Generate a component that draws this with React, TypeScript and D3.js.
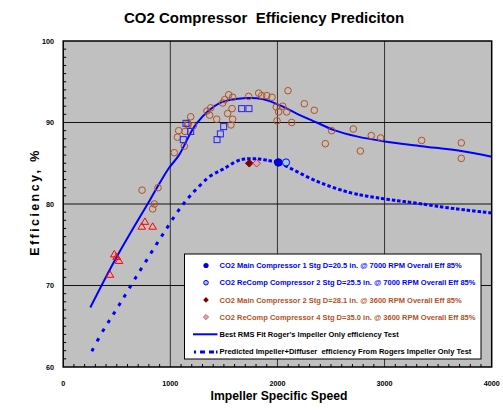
import React from "react";
import * as d3 from "d3";

const W = 503;
const H = 412;
const M = { left: 63.2, right: 491.7, top: 41, bottom: 367 };

const xTicks = [0, 1000, 2000, 3000, 4000];
const yTicks = [60, 70, 80, 90, 100];

// Rogers impeller test data (open brown circles)
const rogersCircles: [number, number][] = [
  [736, 81.7], [885, 82.0], [851, 80.0], [835, 79.4], [1037, 86.3], [1066, 88.2],
  [1078, 89.0], [1131, 87.1], [1137, 88.9], [1162, 89.9], [1190, 90.7], [1215, 89.6],
  [1165, 89.7], [1342, 91.4], [1377, 91.8], [1367, 90.9], [1433, 90.4], [1489, 92.4],
  [1507, 92.8], [1545, 93.4], [1582, 93.1], [1576, 91.7], [1535, 91.1], [1582, 90.4],
  [1566, 89.7], [1731, 93.2], [1825, 93.6], [1853, 93.3], [1900, 93.3], [1949, 93.1],
  [1989, 91.9], [2011, 91.3], [1996, 90.2], [2049, 92.0], [2086, 91.3], [2098, 93.9],
  [2133, 90.0], [2251, 92.3], [2344, 91.5], [2506, 89.0], [2447, 87.4], [2708, 89.2],
  [2774, 86.5], [2876, 88.4], [2963, 88.1], [3346, 87.8], [3716, 87.5], [3716, 85.6],
];
// open blue squares
const squares: [number, number][] = [
  [1146, 89.9], [1190, 88.9], [1121, 87.9], [1498, 89.5], [1467, 88.6], [1436, 87.9],
  [1666, 91.7], [1734, 91.7],
];
// open red triangles
const triangles: [number, number][] = [
  [437, 71.3], [477, 73.8], [499, 73.5], [521, 73.0], [733, 77.2], [763, 77.8], [835, 77.2],
];

const mainComp1: [number, number] = [2008, 85.1];
const reComp2: [number, number] = [2080, 85.1];
const mainComp2: [number, number] = [1737, 85.0];
const reComp4: [number, number] = [1806, 85.0];

const bestFit: [number, number][] = [
  [253, 67.3], [499, 73.5], [810, 80.5], [981, 84.3], [1081, 86.0], [1246, 89.9],
  [1464, 92.4], [1713, 93.0], [1868, 92.85], [2024, 92.1], [2179, 91.1], [2366, 90.0],
  [2521, 89.1], [2739, 88.3], [2988, 87.7], [3346, 87.1], [3716, 86.5], [4000, 85.8],
];
const predicted: [number, number][] = [
  [266, 61.9], [365, 64.3], [465, 66.4], [564, 68.5], [664, 70.7], [764, 72.8],
  [863, 74.9], [966, 77.0], [1065, 79.0], [1165, 80.7], [1271, 82.2], [1370, 83.4],
  [1495, 84.3], [1650, 85.4], [1800, 85.55], [1930, 85.3], [2008, 85.1], [2148, 84.2],
  [2366, 82.8], [2677, 81.4], [2988, 80.65], [3299, 80.1], [3611, 79.5], [4000, 78.9],
];
// the predicted curve was plotted as a series with a step of 50 in specific speed
const predictedStep = 50;

const legendLabels = [
  "CO2 Main Compressor 1 Stg D=20.5 in. @ 7000 RPM Overall Eff 85%",
  "CO2 ReComp Compressor 2 Stg D=25.5 in. @ 7000 RPM Overall Eff 85%",
  "CO2 Main Compressor 2 Stg D=28.1 in. @ 3600 RPM Overall Eff 85%",
  "CO2 ReComp Compressor 4 Stg D=35.0 in. @ 3600 RPM Overall Eff 85%",
  "Best RMS Fit Roger's Impeller Only efficiency Test",
  "Predicted Impeller+Diffuser\u00a0\u00a0efficiency From Rogers Impeller Only Test",
];

const BLUE = "#0000ff";
const BROWN = "#b4501e";
const FONT = "'Liberation Sans', Arial, sans-serif";

function diamond(cx: number, cy: number, r: number) {
  return `M${cx},${cy - r}L${cx + r},${cy}L${cx},${cy + r}L${cx - r},${cy}Z`;
}
function tri(cx: number, cy: number, r: number) {
  return `M${cx},${cy - r}L${cx + r * 0.95},${cy + r * 0.6}L${cx - r * 0.95},${cy + r * 0.6}Z`;
}

// Build per-step dashes along a rendered curve path (each step starts a new dash)
function stepDashes(d: string, xStarts: number[], dashLen: number): string[] {
  if (typeof document === "undefined") return [];
  const p = document.createElementNS("http://www.w3.org/2000/svg", "path");
  p.setAttribute("d", d);
  const total = p.getTotalLength();
  const samples: { x: number; y: number; l: number }[] = [];
  for (let l = 0; l <= total; l += 0.25) {
    const pt = p.getPointAtLength(l);
    samples.push({ x: pt.x, y: pt.y, l });
  }
  const out: string[] = [];
  let j = 0;
  for (const xs of xStarts) {
    while (j < samples.length && samples[j].x < xs) j++;
    if (j >= samples.length) break;
    const s0 = samples[j];
    const pts = [[s0.x, s0.y]];
    let k = j + 1;
    while (k < samples.length && samples[k].l - s0.l <= dashLen) {
      pts.push([samples[k].x, samples[k].y]);
      k++;
    }
    out.push("M" + pts.map((q) => q.join(",")).join("L"));
  }
  return out;
}

export default function App() {
  const x = d3.scaleLinear().domain([0, 4000]).range([M.left, M.right]);
  const y = d3.scaleLinear().domain([60, 100]).range([M.bottom, M.top]);
  const line = d3
    .line<[number, number]>()
    .x((d) => x(d[0]))
    .y((d) => y(d[1]))
    .curve(d3.curveCatmullRom.alpha(0.5));

  const predPath = line(predicted) || "";
  const starts = d3
    .range(predicted[0][0], predicted[predicted.length - 1][0], predictedStep)
    .map((v) => x(v));
  const dashes = React.useMemo(() => stepDashes(predPath, starts, 3.6), [predPath]);

  const minorX = d3.range(100, 4000, 100).filter((v) => v % 1000 !== 0);
  const minorY = d3.range(61, 100, 1).filter((v) => v % 10 !== 0);

  const lgX = 184.5;
  const lgY = 254;
  const lgW = 296.5;
  const lgH = 105;
  const rowY = (i: number) => 265.5 + i * 17.2;
  const symX = 206;
  const textX = 219.5;
  const legendColors = [BLUE, BLUE, BROWN, BROWN, "#000", "#000"];

  return (
    <svg width={W} height={H} style={{ position: "absolute", left: 0, top: 0 }} fontFamily={FONT}>
      <rect x={0} y={0} width={W} height={H} fill="#fff" />
      <text x={264} y={23} textAnchor="middle" fontSize={15} fontWeight="bold">
        CO2 Compressor{"\u00a0\u00a0"}Efficiency Prediciton
      </text>
      <defs>
        <clipPath id="plot">
          <rect x={M.left} y={M.top} width={M.right - M.left} height={M.bottom - M.top} />
        </clipPath>
      </defs>
      <rect x={M.left} y={M.top} width={M.right - M.left} height={M.bottom - M.top} fill="#c0c0c0" />
      {/* grid */}
      {xTicks.slice(1, -1).map((t) => (
        <line key={"gx" + t} x1={x(t)} x2={x(t)} y1={M.top} y2={M.bottom} stroke="#333" strokeWidth={1} />
      ))}
      {yTicks.slice(1, -1).map((t) => (
        <line key={"gy" + t} x1={M.left} x2={M.right} y1={y(t)} y2={y(t)} stroke="#111" strokeWidth={1} />
      ))}
      {/* minor ticks */}
      {minorX.map((t) => (
        <line key={"mx" + t} x1={x(t)} x2={x(t)} y1={M.bottom} y2={M.bottom - 3} stroke="#000" strokeWidth={1} />
      ))}
      {minorY.map((t) => (
        <line key={"my" + t} x1={M.left} x2={M.left + 3} y1={y(t)} y2={y(t)} stroke="#000" strokeWidth={1} />
      ))}
      <g clipPath="url(#plot)">
        {dashes.map((d, i) => (
          <path key={"pd" + i} d={d} fill="none" stroke={BLUE} strokeWidth={3} />
        ))}
        <path d={line(bestFit) || ""} fill="none" stroke={BLUE} strokeWidth={2} />
        {rogersCircles.map((d, i) => (
          <circle key={"c" + i} cx={x(d[0])} cy={y(d[1])} r={3.3} fill="none" stroke={BROWN} strokeWidth={1} />
        ))}
        {squares.map((d, i) => (
          <rect key={"s" + i} x={x(d[0]) - 3} y={y(d[1]) - 3} width={6} height={6} fill="none" stroke="#2020ff" strokeWidth={1} />
        ))}
        {triangles.map((d, i) => (
          <path key={"t" + i} d={tri(x(d[0]), y(d[1]), 4)} fill="none" stroke="#ff0000" strokeWidth={1} />
        ))}
        <path d={diamond(x(mainComp2[0]), y(mainComp2[1]), 3.8)} fill="#800000" stroke="#800000" />
        <path d={diamond(x(reComp4[0]), y(reComp4[1]), 3.8)} fill="#e6a0d0" stroke="#b4501e" strokeWidth={1} />
        <circle cx={x(mainComp1[0])} cy={y(mainComp1[1])} r={3.8} fill="#0000e0" stroke="#0000e0" />
        <circle cx={x(reComp2[0])} cy={y(reComp2[1])} r={3.6} fill="#99ccff" stroke="#0000ff" strokeWidth={1} />
      </g>
      <rect x={M.left} y={M.top} width={M.right - M.left} height={M.bottom - M.top} fill="none" stroke="#000" strokeWidth={1.5} />
      {/* tick labels */}
      {xTicks.map((t) => (
        <text key={"xl" + t} x={x(t)} y={386} textAnchor="middle" fontSize={7.2} fontWeight="bold">
          {t}
        </text>
      ))}
      {yTicks.map((t) => (
        <text key={"yl" + t} x={54} y={y(t) + 2.6} textAnchor="end" fontSize={7.2} fontWeight="bold">
          {t}
        </text>
      ))}
      <text x={279} y={400} textAnchor="middle" fontSize={12.2} fontWeight="bold">
        Impeller Specific Speed
      </text>
      <text
        transform={`translate(39,202) rotate(-90)`}
        textAnchor="middle"
        fontSize={12.5}
        fontWeight="bold"
        letterSpacing={2.4}
      >
        Efficiency, %
      </text>
      {/* legend */}
      <rect x={lgX} y={lgY} width={lgW} height={lgH} fill="#fff" stroke="#000" strokeWidth={1} />
      <circle cx={symX} cy={rowY(0)} r={2.6} fill="#0000e0" />
      <circle cx={symX} cy={rowY(1)} r={2.3} fill="#99ccff" stroke="#0000ff" strokeWidth={1} />
      <path d={diamond(symX, rowY(2), 2.8)} fill="#800000" />
      <path d={diamond(symX, rowY(3), 2.6)} fill="#e6a0d0" stroke="#b4501e" strokeWidth={0.8} />
      <line x1={193} x2={217.5} y1={rowY(4)} y2={rowY(4)} stroke={BLUE} strokeWidth={2} />
      <line x1={194} x2={217.5} y1={rowY(5) + 0.5} y2={rowY(5) + 0.5} stroke={BLUE} strokeWidth={3} strokeDasharray="2,4,5,4,5" />
      {legendLabels.map((l, i) => (
        <text key={"lg" + i} x={textX} y={rowY(i) + 2.7} fontSize={7.5} fontWeight="bold" fill={legendColors[i]}>
          {l}
        </text>
      ))}
    </svg>
  );
}
